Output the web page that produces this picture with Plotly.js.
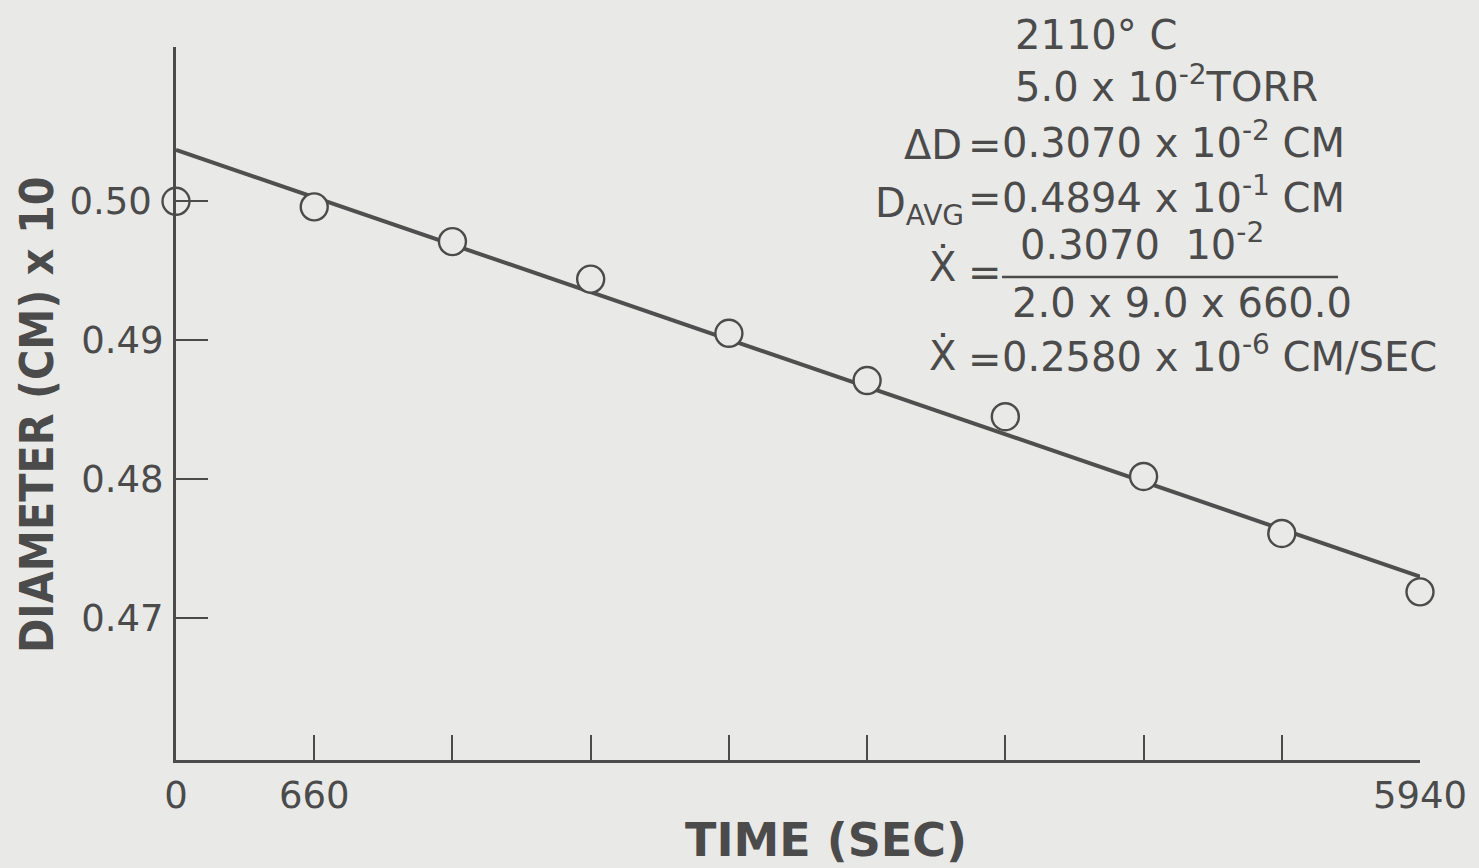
<!DOCTYPE html>
<html>
<head>
<meta charset="utf-8">
<script src="https://cdn.plot.ly/plotly-3.0.1.min.js"></script>
<style>
html,body{margin:0;padding:0;background:#e9e9e7;}
#chart{width:1479px;height:868px;}
</style>
</head>
<body>
<div id="chart"></div>
<script>
// Measured data
var timeSec = [0, 660, 1320, 1980, 2640, 3300, 3960, 4620, 5280, 5940];
var diameter = [0.5000, 0.4996, 0.4971, 0.4944, 0.4905, 0.4871, 0.4845, 0.4802, 0.4761, 0.4719];
// Fitted straight line endpoints
var fitTime = [0, 5940];
var fitDiameter = [0.5037, 0.4730];
// Axis ticks
var xTickVals = [0, 660, 5940];
var xTickText = ['0', '660', '5940'];
var xTickStep = 660;
var yTickVals = [0.47, 0.48, 0.49, 0.50];
var yTickText = ['0.47', '0.48', '0.49', '0.50\u00a0'];

var ink = '#4b4b4b';
var paper = '#e9e9e7';
var F = 'DejaVu Sans, sans-serif';

var traces = [
  {x: fitTime, y: fitDiameter, mode: 'lines', line: {color: '#4f4f4f', width: 4}, hoverinfo: 'skip', cliponaxis: false},
  {x: timeSec, y: diameter, mode: 'markers', cliponaxis: false,
   marker: {symbol: 'circle', size: 27, color: paper, line: {color: ink, width: 2.4}}}
];

function px2x(px){ return (px - 176) / 1244; }
function px2y(py){ return (760 - py) / 713; }

var annFont = {family: F, size: 40, color: ink};
var annotations = [
  {text: '2110° C', x: px2x(1013), y: px2y(35), xanchor: 'left', yanchor: 'middle'},
  {text: '5.0 x 10<sup>-2</sup>TORR', x: px2x(1013), y: px2y(84), xanchor: 'left', yanchor: 'middle'},
  {text: '\u0394D', x: px2x(964), y: px2y(145), xanchor: 'right', yanchor: 'middle'},
  {text: '=', x: px2x(985), y: px2y(145), xanchor: 'center', yanchor: 'middle'},
  {text: '0.3070 x 10<sup>-2</sup> CM', x: px2x(1000), y: px2y(140), xanchor: 'left', yanchor: 'middle'},
  {text: 'D<sub>AVG</sub>', x: px2x(966), y: px2y(206), xanchor: 'right', yanchor: 'middle'},
  {text: '=', x: px2x(985), y: px2y(198), xanchor: 'center', yanchor: 'middle'},
  {text: '0.4894 x 10<sup>-1</sup> CM', x: px2x(1000), y: px2y(195), xanchor: 'left', yanchor: 'middle'},
  {text: '\u1E8A', x: px2x(958), y: px2y(266), xanchor: 'right', yanchor: 'middle'},
  {text: '=', x: px2x(985), y: px2y(272), xanchor: 'center', yanchor: 'middle'},
  {text: '0.3070  10<sup>-2</sup>', x: px2x(1018), y: px2y(242), xanchor: 'left', yanchor: 'middle'},
  {text: '2.0 x 9.0 x 660.0', x: px2x(1010), y: px2y(303), xanchor: 'left', yanchor: 'middle'},
  {text: '\u1E8A', x: px2x(958), y: px2y(355), xanchor: 'right', yanchor: 'middle'},
  {text: '=', x: px2x(985), y: px2y(359), xanchor: 'center', yanchor: 'middle'},
  {text: '0.2580 x 10<sup>-6</sup> CM/SEC', x: px2x(1000), y: px2y(354), xanchor: 'left', yanchor: 'middle'},
  {text: 'TIME (SEC)', x: px2x(826), y: px2y(840), xanchor: 'center', yanchor: 'middle', borderpad: 0,
   font: {family: F, size: 46, color: ink, weight: 'bold'}},
  {text: 'DIAMETER (CM) x 10', x: px2x(37), y: px2y(415), xanchor: 'center', yanchor: 'middle', textangle: -90,
   font: {family: 'DejaVu Sans Condensed, DejaVu Sans, sans-serif', size: 46, color: ink, weight: 'bold'}}
].map(function(a){
  a.xref = 'paper'; a.yref = 'paper'; a.showarrow = false;
  if (!a.font) a.font = annFont;
  return a;
});

var layout = {
  width: 1479, height: 868,
  paper_bgcolor: paper, plot_bgcolor: paper,
  showlegend: false,
  margin: {l: 176, r: 59, t: 47, b: 108},
  xaxis: {
    range: [0, 5940], tickmode: 'array', tickvals: xTickVals, ticktext: xTickText,
    ticks: 'inside', ticklen: 25, tickwidth: 2, tickcolor: ink,
    minor: {tick0: 0, dtick: xTickStep, ticks: 'inside', ticklen: 25, tickwidth: 2, tickcolor: ink, showgrid: false},
    showline: true, linecolor: ink, linewidth: 3, showgrid: false, zeroline: false,
    tickfont: {family: F, size: 37, color: ink}, ticklabelstandoff: 1
  },
  yaxis: {
    range: [0.4598, 0.5111], tickmode: 'array', tickvals: yTickVals, ticktext: yTickText,
    ticks: 'inside', ticklen: 32, tickwidth: 2, tickcolor: ink,
    showline: true, linecolor: ink, linewidth: 3, showgrid: false, zeroline: false,
    tickfont: {family: F, size: 37, color: ink}, ticklabelstandoff: 2
  },
  shapes: [
    {type: 'line', xref: 'paper', yref: 'paper', x0: px2x(1002), x1: px2x(1338), y0: px2y(277), y1: px2y(277), line: {color: ink, width: 2.5}}
  ],
  annotations: annotations
};

Plotly.newPlot('chart', traces, layout, {displayModeBar: false, staticPlot: true});
</script>
</body>
</html>
